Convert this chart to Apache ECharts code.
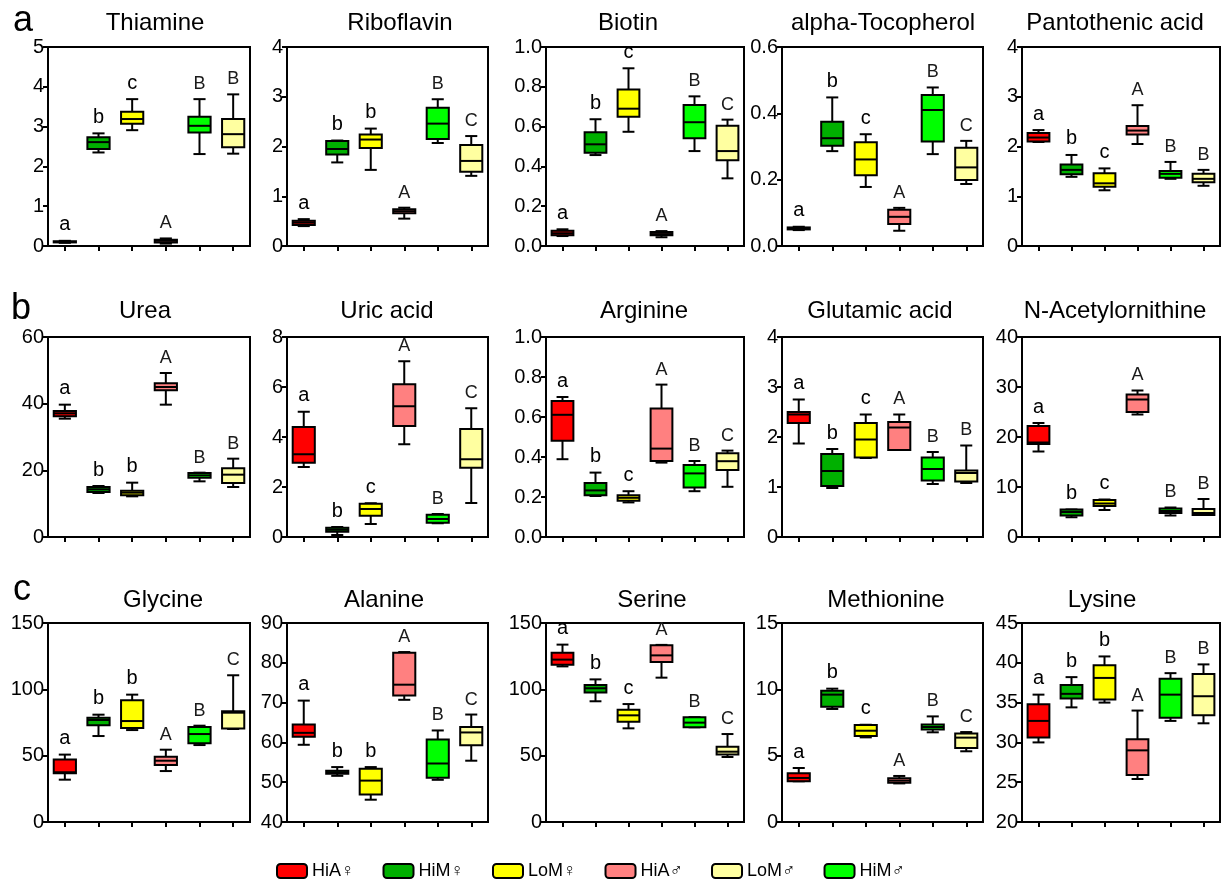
<!DOCTYPE html>
<html>
<head>
<meta charset="utf-8">
<script src="https://cdn.jsdelivr.net/npm/echarts@6/dist/echarts.min.js"></script>
<style>
  html, body { margin: 0; padding: 0; background: #fff; }
  #chart { width: 1221px; height: 879px; }
</style>
</head>
<body>
<div id="chart"></div>
<script>
// Groups in plotting order and their fill colours
const groups = ['HiA♀', 'HiM♀', 'LoM♀', 'HiA♂', 'HiM♂', 'LoM♂'];
const groupColors = ['#ff0000', '#00b000', '#ffff00', '#ff8080', '#00ff00', '#ffffa0'];
const legendOrder = ['HiA♀', 'HiM♀', 'LoM♀', 'HiA♂', 'LoM♂', 'HiM♂'];

// Box statistics per group: [min, Q1, median, Q3, max]
const thiamine = [
  [0.08, 0.09, 0.10, 0.12, 0.13], [2.35, 2.44, 2.61, 2.73, 2.83], [2.91, 3.07, 3.19, 3.37, 3.69],
  [0.06, 0.09, 0.13, 0.16, 0.19], [2.31, 2.85, 3.02, 3.25, 3.69], [2.32, 2.48, 2.81, 3.19, 3.81]];
const riboflavin = [
  [0.40, 0.42, 0.47, 0.51, 0.54], [1.68, 1.84, 1.95, 2.11, 2.12], [1.53, 1.97, 2.14, 2.24, 2.36],
  [0.55, 0.66, 0.70, 0.74, 0.77], [2.07, 2.15, 2.46, 2.78, 2.95], [1.41, 1.49, 1.71, 2.03, 2.21]];
const biotin = [
  [0.050, 0.054, 0.064, 0.077, 0.084], [0.457, 0.469, 0.511, 0.571, 0.637], [0.574, 0.650, 0.690, 0.787, 0.893],
  [0.044, 0.054, 0.060, 0.070, 0.075], [0.477, 0.541, 0.622, 0.709, 0.752], [0.340, 0.431, 0.477, 0.604, 0.635]];
const tocopherol = [
  [0.048, 0.050, 0.053, 0.056, 0.058], [0.286, 0.302, 0.325, 0.375, 0.448], [0.178, 0.213, 0.261, 0.313, 0.337],
  [0.046, 0.066, 0.088, 0.109, 0.115], [0.277, 0.315, 0.410, 0.455, 0.478], [0.187, 0.199, 0.237, 0.296, 0.317]];
const pantothenic = [
  [2.09, 2.10, 2.18, 2.27, 2.33], [1.39, 1.44, 1.53, 1.64, 1.83], [1.12, 1.19, 1.26, 1.46, 1.56],
  [2.05, 2.24, 2.32, 2.41, 2.83], [1.35, 1.37, 1.45, 1.51, 1.69], [1.21, 1.28, 1.35, 1.45, 1.53]];
const urea = [
  [35.5, 36.2, 37.1, 37.8, 39.7], [13.2, 13.5, 14.3, 15.0, 15.3], [12.2, 12.5, 13.3, 13.9, 16.3],
  [39.7, 44.0, 45.0, 46.1, 49.2], [16.7, 17.8, 18.5, 19.2, 19.3], [15.0, 16.2, 18.7, 20.6, 23.5]];
const uricAcid = [
  [2.80, 2.97, 3.31, 4.40, 5.01], [0.08, 0.21, 0.29, 0.37, 0.40], [0.52, 0.85, 1.12, 1.33, 1.35],
  [3.71, 4.44, 5.23, 6.11, 7.03], [0.55, 0.57, 0.72, 0.89, 0.92], [1.36, 2.77, 3.11, 4.32, 5.15]];
const arginine = [
  [0.389, 0.481, 0.611, 0.680, 0.700], [0.205, 0.209, 0.233, 0.270, 0.322], [0.173, 0.181, 0.196, 0.209, 0.229],
  [0.372, 0.380, 0.442, 0.643, 0.762], [0.229, 0.248, 0.318, 0.360, 0.380], [0.251, 0.335, 0.379, 0.419, 0.432]];
const glutamicAcid = [
  [1.87, 2.28, 2.45, 2.50, 2.75], [0.98, 1.02, 1.32, 1.66, 1.76], [1.58, 1.59, 1.95, 2.28, 2.45],
  [1.74, 1.74, 2.19, 2.30, 2.45], [1.06, 1.13, 1.36, 1.59, 1.70], [1.08, 1.11, 1.28, 1.33, 1.83]];
const nAcetylornithine = [
  [17.1, 18.6, 18.9, 22.2, 22.8], [3.95, 4.3, 5.0, 5.5, 5.5], [5.4, 6.2, 6.7, 7.4, 7.5],
  [24.5, 25.0, 27.5, 28.5, 29.3], [4.3, 4.8, 5.2, 5.7, 5.9], [4.4, 4.4, 4.8, 5.6, 7.6]];
const glycine = [
  [31.9, 36.7, 37.5, 47.2, 50.8], [64.8, 72.9, 76.9, 78.6, 80.9], [69.3, 70.9, 76.1, 91.7, 96.0],
  [38.4, 43.0, 46.2, 49.2, 54.5], [58.0, 59.3, 66.3, 71.6, 72.6], [70.1, 70.4, 82.4, 83.4, 110.6]];
const alanine = [
  [59.4, 61.4, 62.4, 64.5, 70.5], [51.6, 52.1, 52.5, 52.9, 53.8], [45.6, 46.9, 50.4, 53.4, 53.8],
  [70.7, 71.8, 74.5, 82.5, 82.7], [50.6, 51.1, 54.7, 60.7, 63.0], [55.4, 59.3, 62.5, 63.9, 67.0]];
const serine = [
  [117.3, 118.6, 122.4, 127.6, 133.7], [91.0, 97.7, 100.8, 103.3, 107.5], [70.6, 75.6, 80.4, 84.7, 88.9],
  [108.8, 120.6, 125.6, 133.2, 133.5], [71.4, 71.4, 74.9, 78.9, 79.0], [49.0, 50.8, 53.0, 56.8, 66.3]];
const methionine = [
  [3.07, 3.07, 3.32, 3.67, 4.07], [8.52, 8.69, 9.60, 9.90, 10.05], [6.38, 6.48, 6.88, 7.31, 7.33],
  [2.91, 2.95, 3.12, 3.29, 3.47], [6.76, 6.98, 7.16, 7.34, 7.96], [5.33, 5.58, 6.36, 6.68, 6.78]];
const lysine = [
  [30.0, 30.6, 32.7, 34.8, 36.0], [34.4, 35.5, 36.1, 37.2, 38.2], [35.0, 35.4, 38.1, 39.7, 40.8],
  [25.4, 25.9, 29.0, 30.4, 34.0], [32.7, 33.1, 36.0, 38.0, 38.7], [32.4, 33.4, 35.8, 38.6, 39.8]];

// Significance letters above each box
const lettersThiamine = ['a', 'b', 'c', 'A', 'B', 'B'];
const lettersRiboflavin = ['a', 'b', 'b', 'A', 'B', 'C'];
const lettersBiotin = ['a', 'b', 'c', 'A', 'B', 'C'];
const lettersTocopherol = ['a', 'b', 'c', 'A', 'B', 'C'];
const lettersPantothenic = ['a', 'b', 'c', 'A', 'B', 'B'];
const lettersUrea = ['a', 'b', 'b', 'A', 'B', 'B'];
const lettersUric = ['a', 'b', 'c', 'A', 'B', 'C'];
const lettersArginine = ['a', 'b', 'c', 'A', 'B', 'C'];
const lettersGlutamic = ['a', 'b', 'c', 'A', 'B', 'B'];
const lettersAcetyl = ['a', 'b', 'c', 'A', 'B', 'B'];
const lettersGlycine = ['a', 'b', 'b', 'A', 'B', 'C'];
const lettersAlanine = ['a', 'b', 'b', 'A', 'B', 'C'];
const lettersSerine = ['a', 'b', 'c', 'A', 'B', 'C'];
const lettersMethionine = ['a', 'b', 'c', 'A', 'B', 'C'];
const lettersLysine = ['a', 'b', 'b', 'A', 'B', 'B'];

// Panel titles and y-axis ranges
const panels = [
  { title: 'Thiamine', data: thiamine, letters: lettersThiamine, min: 0, max: 5, interval: 1, dec: 0 },
  { title: 'Riboflavin', data: riboflavin, letters: lettersRiboflavin, min: 0, max: 4, interval: 1, dec: 0 },
  { title: 'Biotin', data: biotin, letters: lettersBiotin, min: 0, max: 1, interval: 0.2, dec: 1 },
  { title: 'alpha-Tocopherol', data: tocopherol, letters: lettersTocopherol, min: 0, max: 0.6, interval: 0.2, dec: 1 },
  { title: 'Pantothenic acid', data: pantothenic, letters: lettersPantothenic, min: 0, max: 4, interval: 1, dec: 0 },
  { title: 'Urea', data: urea, letters: lettersUrea, min: 0, max: 60, interval: 20, dec: 0 },
  { title: 'Uric acid', data: uricAcid, letters: lettersUric, min: 0, max: 8, interval: 2, dec: 0 },
  { title: 'Arginine', data: arginine, letters: lettersArginine, min: 0, max: 1, interval: 0.2, dec: 1 },
  { title: 'Glutamic acid', data: glutamicAcid, letters: lettersGlutamic, min: 0, max: 4, interval: 1, dec: 0 },
  { title: 'N-Acetylornithine', data: nAcetylornithine, letters: lettersAcetyl, min: 0, max: 40, interval: 10, dec: 0 },
  { title: 'Glycine', data: glycine, letters: lettersGlycine, min: 0, max: 150, interval: 50, dec: 0 },
  { title: 'Alanine', data: alanine, letters: lettersAlanine, min: 40, max: 90, interval: 10, dec: 0 },
  { title: 'Serine', data: serine, letters: lettersSerine, min: 0, max: 150, interval: 50, dec: 0 },
  { title: 'Methionine', data: methionine, letters: lettersMethionine, min: 0, max: 15, interval: 5, dec: 0 },
  { title: 'Lysine', data: lysine, letters: lettersLysine, min: 20, max: 45, interval: 5, dec: 0 }
];
const rowLetters = ['a', 'b', 'c'];

// Layout
const FONT = '"Liberation Sans", Arial, "DejaVu Sans", sans-serif';
const colLeft = [48, 287, 546, 782, 1022];
const colWidth = [202, 201, 198, 201, 198];
const rowTop = [47, 337, 623];
const rowHeight = [199, 200, 199];
const titleY = [23.5, 311, 600];
const titleX = [
  155, 400, 628, 883, 1115,
  145, 387, 644, 880, 1115,
  163, 384, 652, 886, 1102];
const rowLetterPos = [[13, 21], [11, 309], [13, 590]];

function boxRenderer(letters) {
  return function (params, api) {
    const k = api.value(0);
    const pMin = api.coord([k, api.value(1)]);
    const pQ1 = api.coord([k, api.value(2)]);
    const pMed = api.coord([k, api.value(3)]);
    const pQ3 = api.coord([k, api.value(4)]);
    const pMax = api.coord([k, api.value(5)]);
    const band = api.size([1, 0])[0];
    const bw = band * 0.66;
    const cw = band * 0.36;
    const x = pMed[0];
    const ln = (x1, y1, x2, y2) => ({
      type: 'line', shape: { x1, y1, x2, y2 },
      style: { stroke: '#000', lineWidth: 2 }
    });
    const letter = letters[k];
    const upper = letter === letter.toUpperCase();
    return {
      type: 'group',
      children: [
        ln(x, pQ3[1], x, pMax[1]),
        ln(x, pQ1[1], x, pMin[1]),
        ln(x - cw / 2, pMax[1], x + cw / 2, pMax[1]),
        ln(x - cw / 2, pMin[1], x + cw / 2, pMin[1]),
        {
          type: 'rect',
          shape: { x: x - bw / 2, y: pQ3[1], width: bw, height: pQ1[1] - pQ3[1] },
          style: { fill: groupColors[k], stroke: '#000', lineWidth: 2 }
        },
        ln(x - bw / 2, pMed[1], x + bw / 2, pMed[1]),
        {
          type: 'text', x: x, y: pMax[1] - 6,
          style: {
            text: letter, align: 'center', verticalAlign: 'bottom',
            fontSize: upper ? 18 : 20, fontFamily: FONT, fill: upper ? '#1a1a1a' : '#000'
          }
        }
      ]
    };
  };
}

const grids = [], xAxes = [], yAxes = [], series = [], graphics = [];
panels.forEach((p, i) => {
  const r = Math.floor(i / 5), c = i % 5;
  grids.push({
    left: colLeft[c], top: rowTop[r], width: colWidth[c], height: rowHeight[r],
    show: true, borderColor: '#000', borderWidth: 2, containLabel: false
  });
  xAxes.push({
    type: 'category', gridIndex: i, data: groups, boundaryGap: true,
    axisLine: { show: true, lineStyle: { color: '#000', width: 2 } },
    axisTick: { show: true, alignWithLabel: true, interval: 0, length: 5, lineStyle: { color: '#000', width: 2 } },
    axisLabel: { show: false, interval: 0 }, splitLine: { show: false }
  });
  yAxes.push({
    type: 'value', gridIndex: i, min: p.min, max: p.max, interval: p.interval,
    axisLine: { show: true, lineStyle: { color: '#000', width: 2 } },
    axisTick: { show: true, length: 5, lineStyle: { color: '#000', width: 2 } },
    axisLabel: {
      show: true, fontSize: 20, color: '#000', fontFamily: FONT, margin: 4,
      formatter: v => Number(v).toFixed(p.dec)
    },
    splitLine: { show: false }
  });
  series.push({
    type: 'custom', xAxisIndex: i, yAxisIndex: i, silent: true,
    encode: { x: 0, y: [1, 2, 3, 4, 5] },
    data: p.data.map((d, k) => [k].concat(d)),
    renderItem: boxRenderer(p.letters)
  });
  graphics.push({
    type: 'text', x: titleX[i], y: titleY[r],
    style: { text: p.title, fontSize: 24, fontFamily: FONT, fill: '#000', align: 'center', verticalAlign: 'middle' }
  });
});
rowLetters.forEach((t, r) => {
  graphics.push({
    type: 'text', x: rowLetterPos[r][0], y: rowLetterPos[r][1],
    style: { text: t, fontSize: 36, fontFamily: FONT, fill: '#000', align: 'left', verticalAlign: 'middle' }
  });
});

// Empty series that only feed the legend
groups.forEach((g, k) => {
  series.push({
    type: 'bar', name: g, xAxisIndex: 0, yAxisIndex: 0, data: [],
    itemStyle: { color: groupColors[k], borderColor: '#000', borderWidth: 2 }
  });
});

const chart = echarts.init(document.getElementById('chart'), null, { renderer: 'canvas' });
chart.setOption({
  animation: false,
  backgroundColor: '#fff',
  grid: grids,
  xAxis: xAxes,
  yAxis: yAxes,
  series: series,
  graphic: graphics,
  legend: {
    data: legendOrder, left: 271, top: 857, icon: 'roundRect',
    itemWidth: 30, itemHeight: 14, itemGap: 28, selectedMode: false,
    textStyle: { fontSize: 18, color: '#000', fontFamily: FONT }
  }
});
</script>
</body>
</html>
